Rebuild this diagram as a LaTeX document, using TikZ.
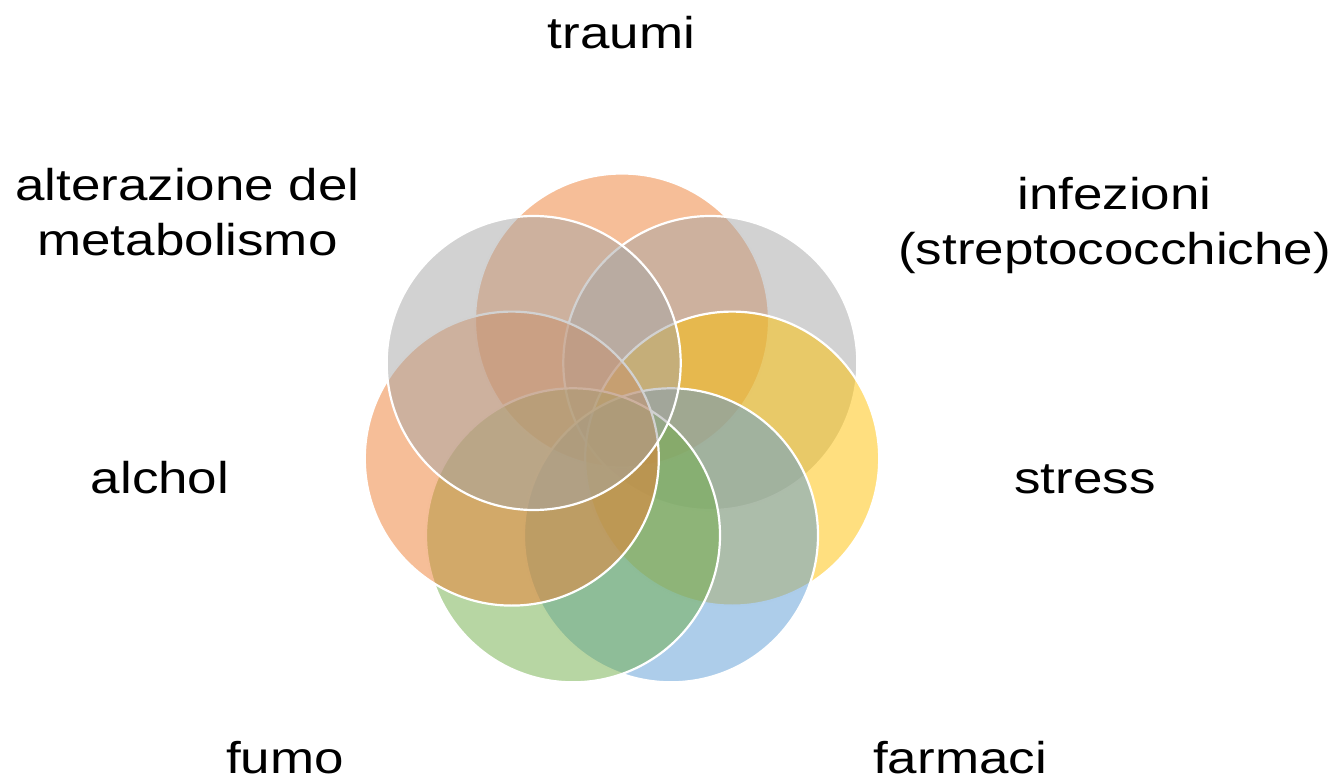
\documentclass[tikz,border=0pt]{standalone}
\usepackage{fontspec}
\newfontfamily\labfont{Liberation Sans}[FakeStretch=1.19]
\definecolor{cOrange}{HTML}{ED7D31}
\definecolor{cGray}{HTML}{A5A5A5}
\definecolor{cYellow}{HTML}{FFC000}
\definecolor{cBlue}{HTML}{5B9BD5}
\definecolor{cGreen}{HTML}{70AD47}
\tikzset{
  venn/.style={circle, minimum size=294pt, inner sep=0pt, fill=#1, fill opacity=0.5, draw=white, line width=2.2pt},
  lab/.style={font=\labfont\fontsize{44.5}{55}\selectfont, align=center, inner sep=0pt, text=black, anchor=base}
}
\begin{document}
\begin{tikzpicture}[x=1pt,y=-1pt]
\useasboundingbox (0,0) rectangle (1339,778);
\node[venn=cOrange] (c1) at (622,320.5) {};
\node[venn=cGray]   (c2) at (710.3,363.0) {};
\node[venn=cYellow] (c3) at (732.2,458.6) {};
\node[venn=cBlue]   (c4) at (671.0,535.3) {};
\node[venn=cGreen]  (c5) at (573.0,535.3) {};
\node[venn=cOrange] (c6) at (511.8,458.6) {};
\node[venn=cGray]   (c7) at (533.7,363.0) {};
\node[lab] (l1) at (621.5,49) {traumi};
\node[lab] (l2) at (1114.5,265) {infezioni\\(streptococchiche)};
\node[lab] (l3) at (1085,493) {stress};
\node[lab] (l4) at (960,773) {farmaci};
\node[lab] (l5) at (285,773) {fumo};
\node[lab] (l6) at (160,493) {alchol};
\node[lab] (l7) at (187.5,256) {alterazione del\\metabolismo};
\end{tikzpicture}
\end{document}
